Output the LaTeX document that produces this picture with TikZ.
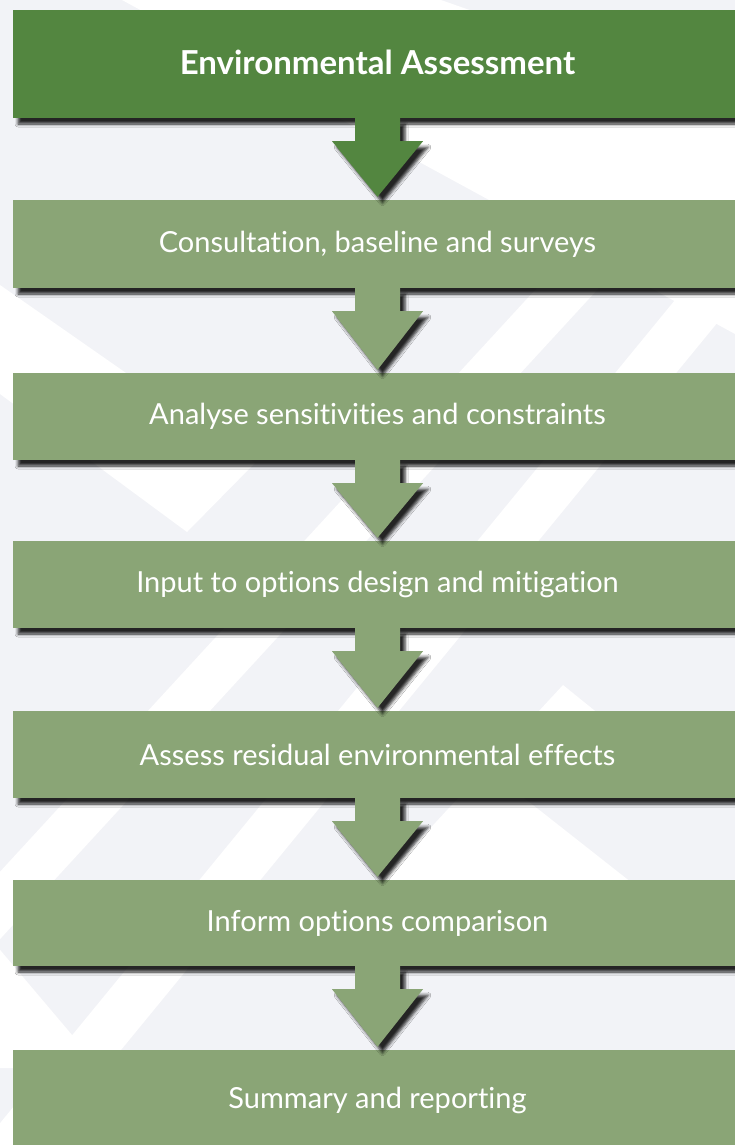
\documentclass[tikz,border=0pt]{standalone}
\usepackage{fontspec}
\setmainfont{Lato}[Ligatures=NoCommon]
\usetikzlibrary{calc,shadows.blur}

\definecolor{headgreen}{HTML}{538640}
\definecolor{stepgreen}{HTML}{8AA576}
\definecolor{paper}{HTML}{F2F3F7}

\begin{document}
\begin{tikzpicture}[x=1pt, y=-1pt]
	\tikzstyle{block} = [rectangle, fill=stepgreen, text=white, minimum width=729pt, minimum height=87pt, inner sep=0pt, font=\fontsize{29}{33}\selectfont, blur shadow={shadow xshift=5pt, shadow yshift=-6pt, shadow blur radius=3pt, shadow opacity=85}]
	\tikzstyle{line} = [fill=stepgreen, blur shadow={shadow xshift=5pt, shadow yshift=-6pt, shadow blur radius=3pt, shadow opacity=85},
		to path={($(\tikztostart.south)+(-22.5,0)$) -- ($(\tikztostart.south)+(-22.5,23)$) -- ($(\tikztostart.south)+(-45.5,23)$) -- ($(\tikztotarget.north)+(0,-3)$) -- ($(\tikztostart.south)+(45.5,23)$) -- ($(\tikztostart.south)+(22.5,23)$) -- ($(\tikztostart.south)+(22.5,0)$) -- cycle}]
	\tikzstyle{stripe} = [fill=white]

	    % Background
	    \useasboundingbox (0,0) rectangle (735,1145);
	    \clip (0,0) rectangle (735,1145);
	    \fill [paper] (0,0) rectangle (735,1145);
	    \fill [stripe] (122,0) -- (441,0) -- (735,103) -- (735,334) -- cycle;
	    \fill [stripe] (811,-10) -- (873,-10) -- (-10,950) -- (-72,950) -- cycle;
	    \fill [stripe] (921,0) -- (982,0) -- (39,1150) -- (-22,1150) -- cycle;
	    \fill [stripe] (0,285) -- (255,463) -- (187,532) -- (0,394) -- cycle;
	    \fill [stripe] (563,685) -- (512,740) -- (631,740) -- cycle;
	    \fill [stripe] (486,768) -- (373,890) -- (641,890) -- cycle;
	    \fill [stripe] (-10,938) -- (100,1068) -- (-10,1068) -- cycle;

	    % Place nodes
	    \node [block, fill=headgreen, minimum height=108pt, font=\fontsize{33}{37}\selectfont\bfseries, text depth=4pt] (EA) at (377.5,64) {Environmental Assessment};
	    \node [block, minimum height=88pt] (CB) at (377.5,244) {Consultation, baseline and surveys};
	    \node [block] (AS) at (377.5,416.5) {Analyse sensitivities and constraints};
	    \node [block] (IO) at (377.5,584.5) {Input to options design and mitigation};
	    \node [block] (AR) at (377.5,754.5) {Assess residual environmental effects};
	    \node [block, minimum height=86pt] (IC) at (377.5,923) {Inform options comparison};
	    \node [block, minimum height=100pt] (SR) at (377.5,1100) {Summary and reporting};

	    % Draw edges
	    \path [line, fill=headgreen] (EA) to (CB);
	    \path [line] (CB) to (AS);
	    \path [line] (AS) to (IO);
	    \path [line] (IO) to (AR);
	    \path [line] (AR) to (IC);
	    \path [line] (IC) to (SR);

\end{tikzpicture}
\end{document}
